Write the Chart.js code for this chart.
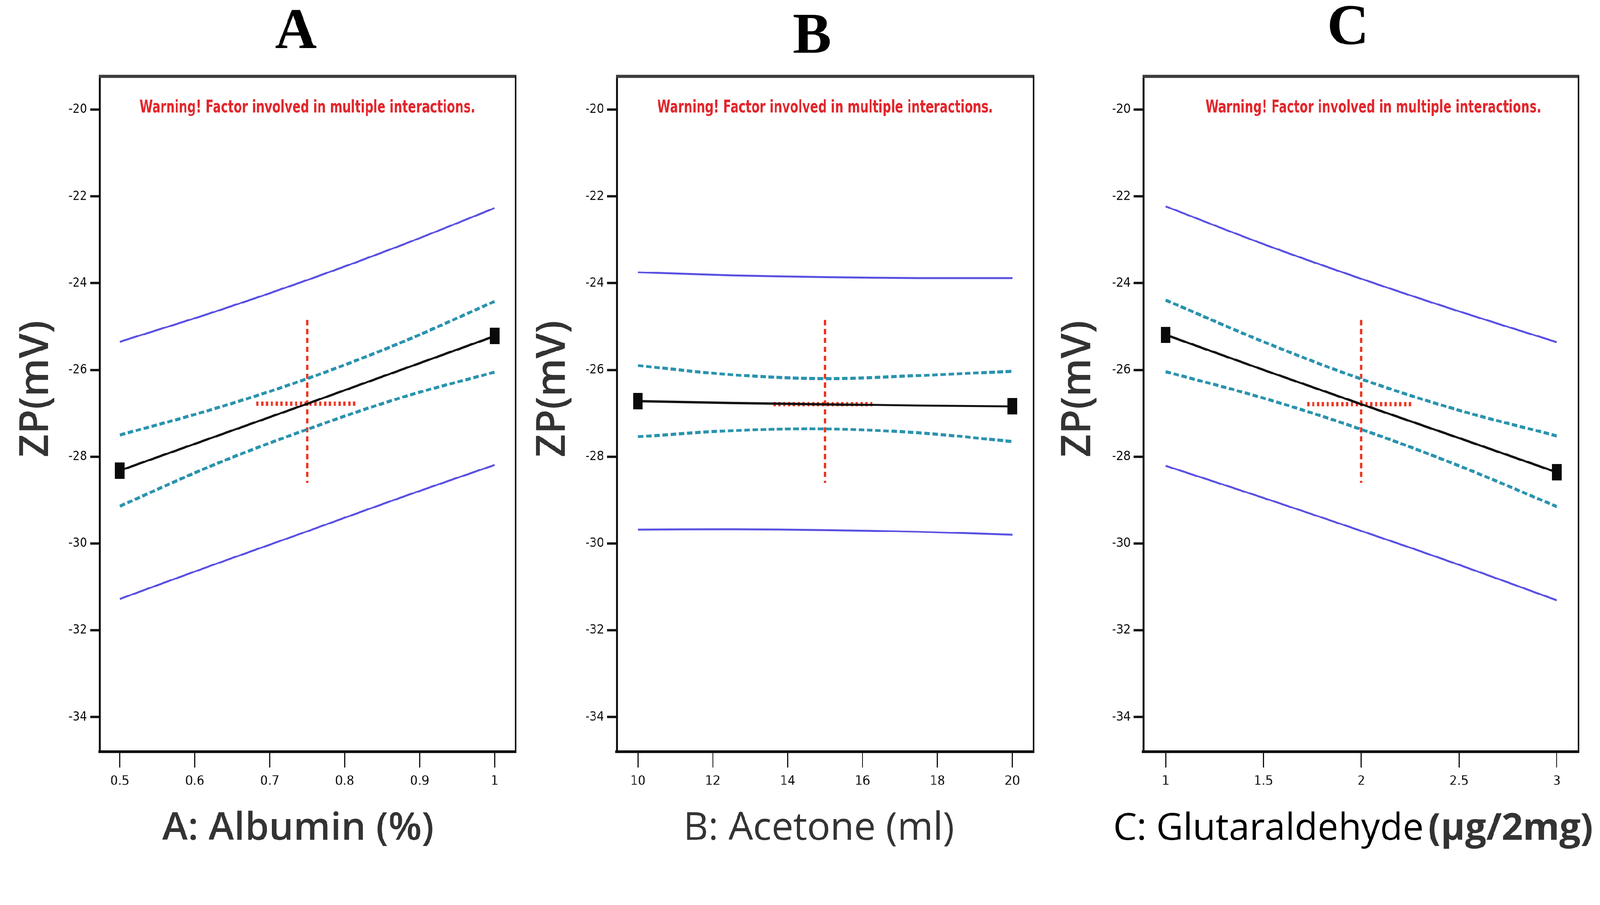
<!DOCTYPE html>
<html>
<head>
<meta charset="utf-8">
<script src="https://cdn.jsdelivr.net/npm/chart.js@4.4.1/dist/chart.umd.min.js"></script>
<style>
  html, body { margin: 0; padding: 0; background: #fff; overflow: hidden; }
  #wrap { position: relative; width: 4299px; height: 2317px; overflow: hidden; background: #fff; transform-origin: 0 0; }
  #wrap canvas { position: absolute; left: 0; top: 0; }
</style>
</head>
<body>
<div id="wrap">
  <canvas id="chartA" width="4299" height="2317"></canvas>
  <canvas id="chartB" width="4299" height="2317"></canvas>
  <canvas id="chartC" width="4299" height="2317"></canvas>
</div>
<script>
// ---- data ----
const yTicks = [-34, -32, -30, -28, -26, -24, -22, -20];

// A: Albumin (%)
const albuminTicks = [0.5, 0.6, 0.7, 0.8, 0.9, 1];
const albuminX     = [0.5, 0.625, 0.75, 0.875, 1];
const albuminPred  = [-28.32, -27.55, -26.78, -26.00, -25.22];
const albuminCiHi  = [-27.50, -26.90, -26.20, -25.37, -24.42];
const albuminCiLo  = [-29.14, -28.19, -27.37, -26.64, -26.05];
const albuminPiHi  = [-25.35, -24.67, -23.93, -23.13, -22.27];
const albuminPiLo  = [-31.28, -30.49, -29.72, -28.94, -28.19];
const albuminCrossX = [0.682, 0.815];

// B: Acetone (ml)
const acetoneTicks = [10, 12, 14, 16, 18, 20];
const acetoneX     = [10, 12.5, 15, 17.5, 20];
const acetonePred  = [-26.72, -26.76, -26.79, -26.82, -26.84];
const acetoneCiHi  = [-25.90, -26.11, -26.20, -26.13, -26.03];
const acetoneCiLo  = [-27.54, -27.40, -27.36, -27.45, -27.65];
const acetonePiHi  = [-23.75, -23.82, -23.86, -23.88, -23.88];
const acetonePiLo  = [-29.68, -29.67, -29.69, -29.73, -29.80];
const acetoneCrossX = [13.62, 16.32];

// C: Glutaraldehyde (µg/2mg)
const glutTicks = [1, 1.5, 2, 2.5, 3];
const glutX     = [1, 1.5, 2, 2.5, 3];
const glutPred  = [-25.19, -26.00, -26.79, -27.57, -28.36];
const glutCiHi  = [-24.39, -25.35, -26.21, -26.93, -27.52];
const glutCiLo  = [-26.04, -26.65, -27.37, -28.21, -29.15];
const glutPiHi  = [-22.23, -23.10, -23.90, -24.65, -25.36];
const glutPiLo  = [-28.21, -28.95, -29.71, -30.49, -31.31];
const glutCrossX = [1.724, 2.262];

// vertical span of the red crosshair (same in all three)
const crossY = [-24.85, -28.60];

const warningText = "Warning! Factor involved in multiple interactions.";

// ---- styles ----
const PI_COLOR = "#5a50e2";
const CI_COLOR = "#2a93ae";
const RED = "#ee341f";
const NARROW = '"Liberation Sans Narrow", "DejaVu Sans Condensed", sans-serif';
const YW = 260;   // width kept for the y scale
const XH = 120;   // height kept for the x scale

// fit the 4299x2317 drawing into whatever viewport we get
const wrap = document.getElementById("wrap");
const fit = Math.min(window.innerWidth / 4299, window.innerHeight / 2317);
if (fit > 0 && Math.abs(fit - 1) > 0.002) wrap.style.transform = "scale(" + fit + ")";

// black end marker (tall rectangle)
const marker = document.createElement("canvas");
marker.width = 26; marker.height = 44;
const mctx = marker.getContext("2d");
mctx.fillStyle = "#0a0a0a";
mctx.fillRect(0, 0, 26, 44);

function pts(xs, ys) {
  return xs.map((x, i) => ({ x: x, y: ys[i] }));
}

// frame top/right, panel letter, warning, axis titles
const decor = {
  id: "decor",
  afterDraw(chart, args, o) {
    const ctx = chart.ctx, a = chart.chartArea;
    ctx.save();
    ctx.strokeStyle = "#3c3c3c";
    ctx.lineWidth = 9;
    ctx.beginPath(); ctx.moveTo(a.left - 2, a.top); ctx.lineTo(a.right + 2, a.top); ctx.stroke();
    ctx.strokeStyle = "#1a1a1a";
    ctx.lineWidth = 4;
    ctx.beginPath(); ctx.moveTo(a.right, a.top); ctx.lineTo(a.right, a.bottom + 4); ctx.stroke();

    ctx.textAlign = "center";
    ctx.textBaseline = "alphabetic";
    ctx.fillStyle = "#000";
    ctx.font = 'bold 155px "Liberation Serif", "Times New Roman", serif';
    ctx.fillText(o.letter, o.letterX, o.letterY);

    // warning squeezed to the narrow width of the original
    ctx.save();
    ctx.fillStyle = "#e2262c";
    ctx.font = "bold 46px " + NARROW;
    const ww = ctx.measureText(warningText).width;
    const sx = Math.min(1, 902 / ww);
    ctx.translate(o.warnX, 302);
    ctx.scale(sx, 1);
    ctx.fillText(warningText, 0, 0);
    ctx.restore();

    // x axis title, possibly in several styled parts
    const gap = 12;
    let widths = o.xTitle.map(p => { ctx.font = p.font; return ctx.measureText(p.text).width; });
    let total = widths.reduce((s, w) => s + w, 0) + gap * (o.xTitle.length - 1);
    let x = o.xTitleX - total / 2;
    ctx.textAlign = "left";
    o.xTitle.forEach((p, i) => {
      ctx.font = p.font;
      ctx.fillStyle = p.color;
      ctx.fillText(p.text, x, 2257);
      x += widths[i] + gap;
    });

    // y axis title
    ctx.translate(o.yTitleX, 1045);
    ctx.rotate(-Math.PI / 2);
    ctx.textAlign = "center";
    ctx.fillStyle = "#333";
    ctx.font = '600 108px "Open Sans", sans-serif';
    ctx.fillText("ZP(mV)", 0, 0);
    ctx.restore();
  }
};

function makePanel(id, p) {
  const n = p.xs.length;
  const cx = p.xs[Math.floor(n / 2)];
  const cy = p.pred[Math.floor(n / 2)];
  const ctx = document.getElementById(id).getContext("2d");
  new Chart(ctx, {
    type: "line",
    data: {
      datasets: [
        { data: pts(p.xs, p.piHi), borderColor: PI_COLOR, borderWidth: 5, pointRadius: 0, tension: 0.35 },
        { data: pts(p.xs, p.piLo), borderColor: PI_COLOR, borderWidth: 5, pointRadius: 0, tension: 0.35 },
        { data: pts(p.xs, p.ciHi), borderColor: CI_COLOR, borderWidth: 8, borderDash: [15, 7], pointRadius: 0, tension: 0.35 },
        { data: pts(p.xs, p.ciLo), borderColor: CI_COLOR, borderWidth: 8, borderDash: [15, 7], pointRadius: 0, tension: 0.35 },
        {
          data: pts(p.xs, p.pred), borderColor: "#111", borderWidth: 6, tension: 0,
          pointStyle: marker,
          pointRadius: c => (c.dataIndex === 0 || c.dataIndex === n - 1) ? 12 : 0
        },
        { data: [{ x: cx, y: crossY[0] }, { x: cx, y: crossY[1] }], borderColor: RED, borderWidth: 6, borderDash: [14, 10], pointRadius: 0 },
        { data: [{ x: p.cross[0], y: cy }, { x: p.cross[1], y: cy }], borderColor: RED, borderWidth: 12, borderDash: [6, 7], pointRadius: 0 }
      ]
    },
    options: {
      responsive: false,
      animation: false,
      events: [],
      layout: {
        padding: { left: p.frame.l - YW, right: 4299 - p.frame.r, top: p.frame.t, bottom: 2317 - p.frame.b - XH }
      },
      plugins: {
        legend: { display: false },
        tooltip: { enabled: false },
        decor: p.decor
      },
      scales: {
        x: {
          type: "linear",
          min: p.xMin, max: p.xMax,
          afterBuildTicks: s => { s.ticks = p.ticks.map(v => ({ value: v })); },
          afterFit: s => { s.height = XH; },
          grid: { drawOnChartArea: false, drawTicks: true, tickLength: 42, tickWidth: 3, tickColor: "#111" },
          border: { display: true, color: "#111", width: 8 },
          ticks: {
            font: { family: NARROW, size: 36 }, color: "#111", padding: 16,
            maxRotation: 0, autoSkip: false, callback: v => String(v)
          }
        },
        y: {
          min: -34.8, max: -19.232,
          afterBuildTicks: s => { s.ticks = yTicks.map(v => ({ value: v })); },
          afterFit: s => { s.width = YW; },
          grid: { drawOnChartArea: false, drawTicks: true, tickLength: 26, tickWidth: 6, tickColor: "#111" },
          border: { display: true, color: "#111", width: 5 },
          ticks: { font: { family: NARROW, size: 34 }, color: "#111", padding: 8, callback: v => String(v) }
        }
      }
    },
    plugins: [decor]
  });
}

document.addEventListener("DOMContentLoaded", () => {
  makePanel("chartA", {
    xs: albuminX, pred: albuminPred, ciHi: albuminCiHi, ciLo: albuminCiLo, piHi: albuminPiHi, piLo: albuminPiLo,
    cross: albuminCrossX, ticks: albuminTicks, xMin: 0.4732, xMax: 1.0278,
    frame: { l: 268, r: 1385, t: 205, b: 2020 },
    decor: {
      letter: "A", letterX: 795, letterY: 129, warnX: 826, yTitleX: 129, xTitleX: 801,
      xTitle: [{ text: "A: Albumin (%)", font: '600 104px "Open Sans", sans-serif', color: "#333" }]
    }
  });
  makePanel("chartB", {
    xs: acetoneX, pred: acetonePred, ciHi: acetoneCiHi, ciLo: acetoneCiLo, piHi: acetonePiHi, piLo: acetonePiLo,
    cross: acetoneCrossX, ticks: acetoneTicks, xMin: 9.433, xMax: 20.567,
    frame: { l: 1657, r: 2777, t: 205, b: 2020 },
    decor: {
      letter: "B", letterX: 2182, letterY: 142, warnX: 2217, yTitleX: 1518, xTitleX: 2200,
      xTitle: [{ text: "B: Acetone (ml)", font: '400 104px "Open Sans", sans-serif', color: "#333" }]
    }
  });
  makePanel("chartC", {
    xs: glutX, pred: glutPred, ciHi: glutCiHi, ciLo: glutCiLo, piHi: glutPiHi, piLo: glutPiLo,
    cross: glutCrossX, ticks: glutTicks, xMin: 0.8858, xMax: 3.1104,
    frame: { l: 3072, r: 4241, t: 205, b: 2020 },
    decor: {
      letter: "C", letterX: 3622, letterY: 118, warnX: 3690, yTitleX: 2929, xTitleX: 3636,
      xTitle: [
        { text: "C: Glutaraldehyde", font: '400 100px "Open Sans", sans-serif', color: "#000" },
        { text: "(µg/2mg)", font: '700 100px "Open Sans", sans-serif', color: "#333" }
      ]
    }
  });
});
</script>
</body>
</html>
